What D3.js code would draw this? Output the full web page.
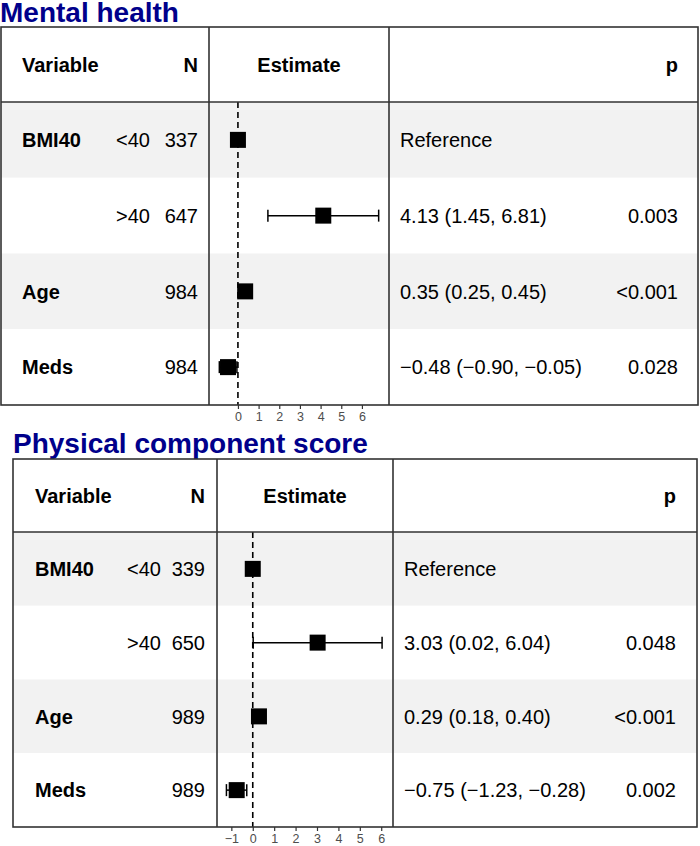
<!DOCTYPE html>
<html>
<head>
<meta charset="utf-8">
<script src="https://cdn.jsdelivr.net/npm/d3@7"></script>
<style>
  html, body { margin: 0; padding: 0; background: #fff; }
  svg { display: block; font-family: "Liberation Sans", Arial, Helvetica, sans-serif; }
</style>
</head>
<body>
<svg id="chart" width="700" height="846"></svg>
<script>
// ---------- DATA ----------
const titles = ["Mental health", "Physical component score"];
const headers = ["Variable", "N", "Estimate", "p"];

const variables1 = ["BMI40", "", "Age", "Meds"];
const levels1 = ["<40", ">40", "", ""];
const n1 = [337, 647, 984, 984];
const est1 = [0, 4.13, 0.35, -0.48];
const lo1 = [null, 1.45, 0.25, -0.90];
const hi1 = [null, 6.81, 0.45, -0.05];
const p1 = ["", "0.003", "<0.001", "0.028"];
const ticks1 = [0, 1, 2, 3, 4, 5, 6];
const xDomain1 = [-1.40, 7.31];

const variables2 = ["BMI40", "", "Age", "Meds"];
const levels2 = ["<40", ">40", "", ""];
const n2 = [339, 650, 989, 989];
const est2 = [0, 3.03, 0.29, -0.75];
const lo2 = [null, 0.02, 0.18, -1.23];
const hi2 = [null, 6.04, 0.40, -0.28];
const p2 = ["", "0.048", "<0.001", "0.002"];
const ticks2 = [-1, 0, 1, 2, 3, 4, 5, 6];
const xDomain2 = [-1.67, 6.55];

// ---------- LAYOUT ----------
const layouts = [
  { titleX: 0, titleY: 22, x0: 1, x1: 698, y0: 27, yH: 102, y1: 405, d1: 209, d2: 389,
    varX: 22, lvlX: 116, nX: 198, estX: 400, pX: 678 },
  { titleX: 13, titleY: 453, x0: 13, x1: 697, y0: 459, yH: 532, y1: 827, d1: 217, d2: 393,
    varX: 35, lvlX: 127, nX: 205, estX: 404, pX: 676 }
];
const panels = [
  { variables: variables1, levels: levels1, n: n1, est: est1, lo: lo1, hi: hi1, p: p1, ticks: ticks1, domain: xDomain1 },
  { variables: variables2, levels: levels2, n: n2, est: est2, lo: lo2, hi: hi2, p: p2, ticks: ticks2, domain: xDomain2 }
];

const svg = d3.select("#chart");
const fmt = d3.format(".2f");
const FS = 20;
const border = "#333333";

panels.forEach((P, pi) => {
  const L = layouts[pi];
  const g = svg.append("g");
  const rows = d3.range(P.est.length);
  const y = d3.scaleBand().domain(rows).range([L.yH, L.y1]).paddingInner(0).paddingOuter(0);
  const x = d3.scaleLinear().domain(P.domain).range([L.d1, L.d2]);

  // title
  g.append("text").attr("x", L.titleX).attr("y", L.titleY)
    .attr("font-size", 28).attr("font-weight", "bold").attr("fill", "#00008B")
    .text(titles[pi]);

  // row bands
  g.selectAll("rect.band").data(rows).enter().append("rect")
    .attr("x", L.x0).attr("width", L.x1 - L.x0)
    .attr("y", d => y(d)).attr("height", y.bandwidth())
    .attr("fill", d => d % 2 === 0 ? "#f2f2f2" : "#ffffff");

  // headers
  const hy = (L.y0 + L.yH) / 2;
  const ht = g.append("g").attr("font-size", FS).attr("font-weight", "bold").attr("fill", "#000");
  ht.append("text").attr("x", L.varX).attr("y", hy).attr("dy", "0.36em").text(headers[0]);
  ht.append("text").attr("x", L.nX).attr("y", hy).attr("dy", "0.36em").attr("text-anchor", "end").text(headers[1]);
  ht.append("text").attr("x", (L.d1 + L.d2) / 2).attr("y", hy).attr("dy", "0.36em").attr("text-anchor", "middle").text(headers[2]);
  ht.append("text").attr("x", L.pX).attr("y", hy).attr("dy", "0.36em").attr("text-anchor", "end").text(headers[3]);

  // row texts
  const cy = d => y(d) + y.bandwidth() / 2;
  const rt = g.append("g").attr("font-size", FS).attr("fill", "#000");
  rt.selectAll("text.var").data(rows).enter().append("text")
    .attr("x", L.varX).attr("y", cy).attr("dy", "0.36em").attr("font-weight", "bold")
    .text(d => P.variables[d]);
  rt.selectAll("text.lvl").data(rows).enter().append("text")
    .attr("x", L.lvlX).attr("y", cy).attr("dy", "0.36em")
    .text(d => P.levels[d]);
  rt.selectAll("text.n").data(rows).enter().append("text")
    .attr("x", L.nX).attr("y", cy).attr("dy", "0.36em").attr("text-anchor", "end")
    .text(d => P.n[d]);
  rt.selectAll("text.est").data(rows).enter().append("text")
    .attr("x", L.estX).attr("y", cy).attr("dy", "0.36em")
    .text(d => P.lo[d] === null ? "Reference" : `${fmt(P.est[d])} (${fmt(P.lo[d])}, ${fmt(P.hi[d])})`);
  rt.selectAll("text.p").data(rows).enter().append("text")
    .attr("x", L.pX).attr("y", cy).attr("dy", "0.36em").attr("text-anchor", "end")
    .text(d => P.p[d]);

  // zero reference line
  g.append("line")
    .attr("x1", x(0)).attr("x2", x(0)).attr("y1", L.yH).attr("y2", L.y1)
    .attr("stroke", "#000").attr("stroke-width", 1.6).attr("stroke-dasharray", "6,4");

  // CIs
  const ciRows = rows.filter(d => P.lo[d] !== null);
  const ci = g.append("g").attr("stroke", "#000").attr("stroke-width", 1.5);
  ci.selectAll("line.ci").data(ciRows).enter().append("line")
    .attr("x1", d => x(P.lo[d])).attr("x2", d => x(P.hi[d]))
    .attr("y1", cy).attr("y2", cy);
  ci.selectAll("line.capl").data(ciRows).enter().append("line")
    .attr("x1", d => x(P.lo[d])).attr("x2", d => x(P.lo[d]))
    .attr("y1", d => cy(d) - 6).attr("y2", d => cy(d) + 6);
  ci.selectAll("line.caph").data(ciRows).enter().append("line")
    .attr("x1", d => x(P.hi[d])).attr("x2", d => x(P.hi[d]))
    .attr("y1", d => cy(d) - 6).attr("y2", d => cy(d) + 6);

  // points
  const S = 16;
  g.selectAll("rect.pt").data(rows).enter().append("rect")
    .attr("x", d => x(P.est[d]) - S / 2).attr("y", d => cy(d) - S / 2)
    .attr("width", S).attr("height", S).attr("fill", "#000");

  // borders
  const b = g.append("g").attr("stroke", border).attr("stroke-width", 1.6).attr("fill", "none");
  b.append("rect").attr("x", L.x0).attr("y", L.y0).attr("width", L.x1 - L.x0).attr("height", L.y1 - L.y0);
  b.append("line").attr("x1", L.x0).attr("x2", L.x1).attr("y1", L.yH).attr("y2", L.yH);
  b.append("line").attr("x1", L.d1).attr("x2", L.d1).attr("y1", L.y0).attr("y2", L.y1);
  b.append("line").attr("x1", L.d2).attr("x2", L.d2).attr("y1", L.y0).attr("y2", L.y1);

  // axis
  const ax = g.append("g").attr("transform", `translate(0,${L.y1})`)
    .call(d3.axisBottom(x).tickValues(P.ticks).tickFormat(d3.format("d")).tickSize(4).tickPadding(3));
  ax.select(".domain").remove();
  ax.selectAll(".tick line").attr("stroke", "#333").attr("stroke-width", 1.2);
  ax.selectAll(".tick text").attr("fill", "#4d4d4d").attr("font-size", 12.5)
    .attr("font-family", "'Liberation Sans', Arial, sans-serif");
});
</script>
</body>
</html>
